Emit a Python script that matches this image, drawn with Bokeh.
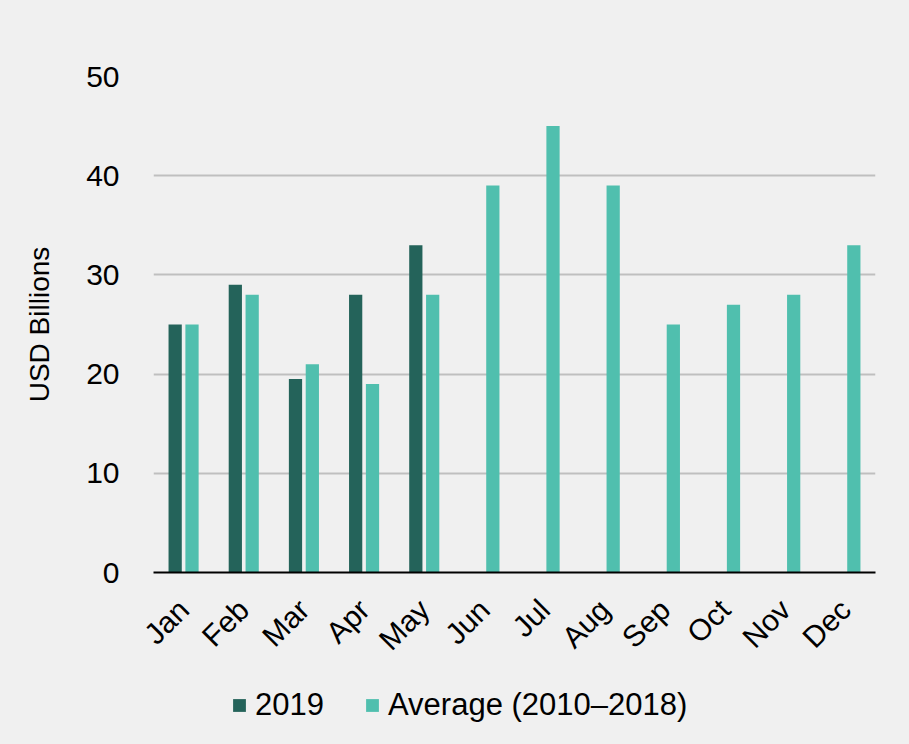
from bokeh.plotting import figure
from bokeh.models import ColumnDataSource, Range1d, Legend, LegendItem
from bokeh.layouts import column
from bokeh.transform import dodge
from bokeh.embed import file_html
from bokeh.resources import INLINE
import math

months = ["Jan", "Feb", "Mar", "Apr", "May", "Jun", "Jul", "Aug", "Sep", "Oct", "Nov", "Dec"]
values_2019 = [25, 29, 19.5, 28, 33, None, None, None, None, None, None, None]
values_avg = [25, 28, 21, 19, 28, 39, 45, 39, 25, 27, 28, 33]
y_ticks = [0, 10, 20, 30, 40, 50]
series_names = ["2019", "Average (2010\u20132018)"]

DARK = "#24635a"
LIGHT = "#50bfae"
BG = "#f0f0f0"
FONT = "Liberation Sans"
FS = "30px"

src = ColumnDataSource(dict(
    month=months,
    v2019=[v if v is not None else float("nan") for v in values_2019],
    vavg=values_avg,
))

p = figure(
    x_range=months, y_range=Range1d(0, 50),
    width=909, height=670,
    output_backend="svg", toolbar_location=None,
    min_border_left=153, min_border_right=34,
    min_border_top=76, min_border_bottom=97,
    background_fill_color=BG, border_fill_color=BG,
)
p.outline_line_color = None

p.vbar(x=dodge("month", -0.14, range=p.x_range), top="v2019", width=0.22,
       source=src, fill_color=DARK, line_color=None)
p.vbar(x=dodge("month", 0.14, range=p.x_range), top="vavg", width=0.22,
       source=src, fill_color=LIGHT, line_color=None)

# grid
p.xgrid.grid_line_color = None
p.ygrid.grid_line_color = "#bfbfbf"
p.ygrid.grid_line_width = 2
p.yaxis.ticker = y_ticks

# y axis
p.yaxis.axis_line_color = None
p.yaxis.major_tick_line_color = None
p.yaxis.minor_tick_line_color = None
p.yaxis.major_label_text_font = FONT
p.yaxis.major_label_text_font_size = FS
p.yaxis.major_label_text_color = "#000000"
p.yaxis.major_label_standoff = 28
p.yaxis.axis_label = "USD Billions"
p.yaxis.axis_label_text_font = FONT
p.yaxis.axis_label_text_font_size = "28px"
p.yaxis.axis_label_text_font_style = "normal"
p.yaxis.axis_label_text_color = "#000000"
p.yaxis.axis_label_standoff = 28

# x axis
p.xaxis.axis_line_color = "#000000"
p.xaxis.axis_line_width = 2
p.xaxis.major_tick_line_color = None
p.xaxis.minor_tick_line_color = None
p.xaxis.major_label_orientation = math.pi / 4
p.xaxis.major_label_text_font = FONT
p.xaxis.major_label_text_font_size = FS
p.xaxis.major_label_text_color = "#000000"
p.xaxis.major_label_standoff = 26

# legend strip underneath the chart, with the same side borders as the chart
lg = figure(
    width=909, height=74, x_range=Range1d(0, 1), y_range=Range1d(0, 1),
    output_backend="svg", toolbar_location=None,
    min_border_left=153, min_border_right=34, min_border_top=0, min_border_bottom=0,
    background_fill_color=BG, border_fill_color=BG,
)
lg.outline_line_color = None
lg.axis.visible = False
lg.grid.visible = False
# legend keys only: zero-height bars, so nothing shows in the strip itself
k1 = lg.vbar(x=[0.5], top=[0], width=0.1, fill_color=DARK, line_color=None)
k2 = lg.vbar(x=[0.5], top=[0], width=0.1, fill_color=LIGHT, line_color=None)

legend = Legend(
    items=[LegendItem(label=series_names[0], renderers=[k1]),
           LegendItem(label=series_names[1], renderers=[k2])],
    orientation="horizontal",
    location=(78, 21),
    glyph_width=16, glyph_height=16,
    label_text_font=FONT, label_text_font_size="31px", label_text_color="#000000",
    spacing=40, label_standoff=8, padding=0, margin=0,
    background_fill_alpha=0, border_line_color=None,
)
lg.add_layout(legend, "center")

layout = column(p, lg, spacing=0, styles={"background-color": BG})
open("out.html", "w").write(file_html(layout, INLINE))
